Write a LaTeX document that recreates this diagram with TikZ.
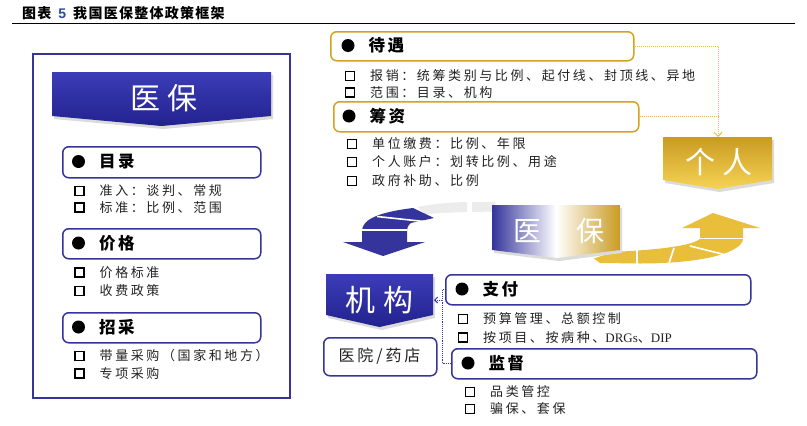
\documentclass[tikz,border=0pt]{standalone}
\usepackage{fontspec}
\setmainfont{Liberation Serif}
\newfontfamily\cjksub{Noto Sans CJK SC}[LetterSpace=20]
\newfontfamily\cjkhead{Noto Sans CJK SC}[LetterSpace=15]
\newfontfamily\cjkban{Noto Sans CJK SC}[LetterSpace=25]
\newfontfamily\cjkyy{Noto Sans CJK SC}[LetterSpace=18]
\newfontfamily\cjktitle{Noto Sans CJK SC}[LetterSpace=9]
\newfontfamily\arialf{Liberation Sans}
\usetikzlibrary{arrows.meta}
\definecolor{navy}{HTML}{34349C}
\definecolor{navyD}{HTML}{22228E}
\definecolor{navyL}{HTML}{3C3CB8}
\definecolor{goldB}{HTML}{D4A21C}
\definecolor{goldA}{HTML}{E9BE3A}
\definecolor{goldD}{HTML}{C99B22}
\definecolor{goldL}{HTML}{F6D354}
\definecolor{lightg}{HTML}{ECECEC}
\definecolor{txt}{HTML}{222222}
\definecolor{numblue}{HTML}{2D4C9C}
\tikzset{
 nbox/.style={draw=navy, line width=1.5pt, rounded corners=6pt, anchor=north west, inner sep=0pt},
 gbox/.style={draw=goldB, line width=1.5pt, rounded corners=6pt, anchor=north west, inner sep=0pt},
 sqb/.style={draw=black, line width=1.9pt, minimum size=9pt, inner sep=0pt},
 dotb/.style={circle, fill=black, minimum size=13pt, inner sep=0pt},
 subt/.style={anchor=west, inner sep=0pt, text=txt, font=\cjksub\fontsize{13}{13}\selectfont},
 headt/.style={anchor=west, inner sep=0pt, text=black, font=\cjkhead\bfseries\fontsize{16.5}{16.5}\selectfont},
 bant/.style={text=white, inner sep=0pt, font=\cjkban\fontsize{30}{30}\selectfont},
 bant2/.style={text=white, inner sep=0pt, font=\cjkban\fontsize{28}{28}\selectfont},
 gdot/.style={draw=goldA, densely dotted, line width=1pt},
 ndot/.style={draw=navy, densely dotted, line width=0.9pt},
 sep/.style={draw=white, line width=1.6pt},
 shad/.style={fill=black!14},
}
\newcommand\myitem[4]{\node[sqb] (#1s) at (#2,#3) {}; \node[subt] (#1) at ({#2+20},#3) {#4};}
\newcommand\myhead[4]{\node[dotb] (#1d) at (#2,#3) {}; \node[headt] (#1) at ({#2+20.5},#3) {#4};}
\begin{document}
\begin{tikzpicture}[x=1pt,y=-1pt]
\useasboundingbox (0,0) rectangle (807,426);
\fill[white] (0,0) rectangle (807,426);

% title
\node[anchor=west, inner sep=0pt, font=\cjktitle\bfseries\fontsize{14}{14}\selectfont] (title) at (22,13) {图表\hspace{7pt}{\arialf\bfseries\color{numblue}5}\hspace{7pt}我国医保整体政策框架};
\draw[line width=0.8pt] (12,23.5) -- (795,23.5);

% left panel
\node[draw=navy, line width=1.6pt, minimum width=257pt, minimum height=344pt, anchor=north west, inner sep=0pt] (panel) at (32,53) {};
\fill[shad] (54,75) -- (273,75) -- (273,119) -- (163.5,129) -- (54,119) -- cycle;
\shade[top color=navyL, bottom color=navyD] (52,72) -- (271,72) -- (271,116) -- (161.5,126) -- (52,116) -- cycle;
\node[bant] (yb) at (164,98) {医保};

\node[nbox, minimum width=198pt, minimum height=31pt] (mulu) at (62,146) {};
\myhead{mulut}{78.5}{161.5}{目录}
\myitem{mu1}{79.5}{191}{准入：谈判、常规}
\myitem{mu2}{79.5}{207.5}{标准：比例、范围}

\node[nbox, minimum width=198pt, minimum height=30pt] (jiage) at (62,228) {};
\myhead{jiaget}{78.5}{243}{价格}
\myitem{jg1}{79.5}{272.5}{价格标准}
\myitem{jg2}{79.5}{291}{收费政策}

\node[nbox, minimum width=198pt, minimum height=30pt] (zhaocai) at (62,312) {};
\myhead{zct}{78.5}{327}{招采}
\myitem{zc1}{79.5}{356}{带量采购（国家和地方）}
\myitem{zc2}{79.5}{373.5}{专项采购}

% right top
\node[gbox, minimum width=303pt, minimum height=29pt] (daiyu) at (330,31) {};
\myhead{dyt}{348}{45.5}{待遇}
\myitem{dy1}{350}{76}{报销：统筹类别与比例、起付线、封顶线、异地}
\myitem{dy2}{350}{92.5}{范围：目录、机构}

\node[gbox, minimum width=305pt, minimum height=30pt] (chouzi) at (333,101) {};
\myhead{czt}{349}{116}{筹资}
\myitem{cz1}{352}{144}{单位缴费：比例、年限}
\myitem{cz2}{352}{162}{个人账户：划转比例、用途}
\myitem{cz3}{352}{181}{政府补助、比例}

% 个人
\fill[shad] (665,140) -- (774,140) -- (774,183) -- (719.5,192) -- (665,183) -- cycle;
\shade[top color=goldD, bottom color=goldL] (663,137) -- (772,137) -- (772,180) -- (717.5,189) -- (663,180) -- cycle;
\node[bant] (geren) at (719,162) {个人};
\coordinate (grtop) at (718,137);
\draw[gdot, -{Straight Barb[length=4pt,width=8pt]}] (daiyu.east) -| (grtop);
\draw[gdot] (chouzi.east) -- (chouzi.east -| grtop);

% grey band
\fill[lightg] (418,207) .. controls (435,203.5) and (452,202.5) .. (467,202) -- (467,212) .. controls (452,212.5) and (438,213) .. (425,214) -- cycle;
\fill[lightg] (472,202) -- (495,202) -- (495,211.5) -- (472,212) -- cycle;

% blue curved arrow
\fill[navy] (343,242) -- (362,242) -- (362,231) .. controls (362,219) and (380,212) .. (413,208) -- (434,218) -- (411,223) .. controls (408,225) and (407,228) .. (407,232) -- (407,242) -- (425,242) -- (383,256) -- cycle;
\draw[sep] (362,230) -- (407,230);
\draw[sep] (377,216.5) -- (424,221.5);

% gold curved arrow
\fill[goldA] (682,228) -- (713,213) -- (760,228) -- (743,228) -- (743,239) .. controls (742,252) and (705,263.5) .. (640,263.5) -- (600,263) -- (594,258.5) -- (613,252) .. controls (640,250.5) and (688,248) .. (700,239) -- (700,228) -- cycle;
\draw[sep] (700,238.5) -- (743,238.5);
\draw[sep] (637,247) -- (637,266);
\draw[sep] (668,266) -- (674,248);
\draw[sep] (690,246) -- (730,256);

% middle 医保
\fill[shad] (494,208) -- (622,208) -- (622,253) -- (559,261) -- (494,253) -- cycle;
\shade[left color=navy, right color=goldD, middle color=white] (492,205) -- (620,205) -- (620,250) -- (557,258) -- (492,250) -- cycle;
\node[bant2] (yb2a) at (527,231) {医};
\node[bant2] (yb2b) at (590,231) {保};

% 机构
\fill[shad] (328,277) -- (435,277) -- (435,318) -- (381.5,330) -- (328,318) -- cycle;
\shade[top color=navyL, bottom color=navyD] (326,274) -- (433,274) -- (433,315) -- (379.5,327) -- (326,315) -- cycle;
\node[bant] (jigou) at (379.5,300) {机构};
\coordinate (jgE) at (434,300);

\node[nbox, minimum width=113pt, minimum height=38pt] (yyyd) at (323,337) {};
\node[inner sep=0pt, text=txt, font=\cjkyy\fontsize{16}{16}\selectfont] (yyydt) at (379.5,356) {医院/药店};

% 支付 / 监督
\node[nbox, minimum width=305pt, minimum height=30pt] (zhifu) at (445,274) {};
\myhead{zft}{462}{289}{支付}
\myitem{zf1}{463}{319}{预算管理、总额控制}
\myitem{zf2}{463}{337.5}{按项目、按病种、{\rmfamily DRGs}、{\rmfamily DIP}}

\node[nbox, minimum width=305pt, minimum height=30pt] (jiandu) at (451,348) {};
\myhead{jdt}{468}{363}{监督}
\myitem{jd1}{470}{392}{品类管控}
\myitem{jd2}{470}{409}{骗保、套保}

\coordinate (dj) at (442,300);
\draw[ndot] (jiandu.west) -| (dj) |- (zhifu.west);
\draw[ndot, -{Straight Barb[length=3pt,width=6pt]}] (dj) -- (jgE);
\end{tikzpicture}
\end{document}
